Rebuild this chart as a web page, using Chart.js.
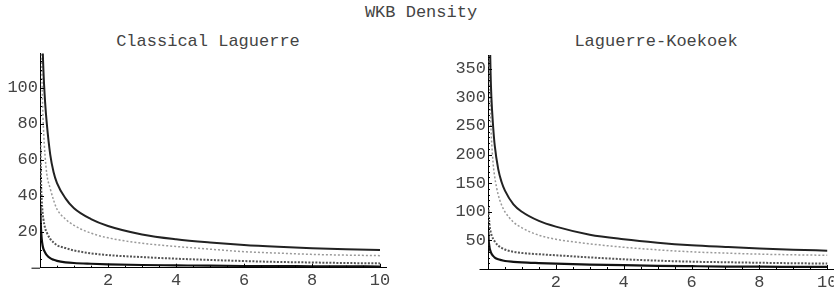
<!DOCTYPE html>
<html>
<head>
<meta charset="utf-8">
<script src="https://cdn.jsdelivr.net/npm/chart.js@4/dist/chart.umd.min.js"></script>
<style>
  body { margin: 0; background: #fff; width: 834px; height: 292px; overflow: hidden; position: relative; }
  canvas { position: absolute; top: 0; }
  .ttl { position: absolute; width: 400px; text-align: center; font: 17px "Liberation Mono", monospace; color: #444; line-height: 20px; white-space: nowrap; }
</style>
</head>
<body>
<div class="ttl" style="left:221px; top:3px;">WKB Density</div>
<div class="ttl" style="left:8px; top:32px;">Classical Laguerre</div>
<div class="ttl" style="left:456px; top:32px;">Laguerre-Koekoek</div>
<canvas id="left-chart" width="417" height="292" style="left:0"></canvas>
<canvas id="right-chart" width="417" height="292" style="left:417px"></canvas>
<script>
// sample positions shared by every curve
const xValues = [0.01, 0.02, 0.035, 0.05, 0.075, 0.1, 0.15, 0.2, 0.3, 0.4, 0.5, 0.75, 1, 1.5, 2, 3, 4, 5, 6, 7, 8, 9, 10];

// Classical Laguerre curves
const laguerre1 = [300, 220, 170, 150, 125, 110, 92, 80, 63, 53, 47, 38.5, 33, 27, 23.2, 18.5, 15.8, 14, 12.6, 11.6, 10.8, 10.2, 9.8];
const laguerre2 = [250, 180, 140, 115, 92, 78, 62, 52, 44, 37.5, 32.5, 27, 23.5, 19.2, 16.6, 13.6, 11.8, 10.3, 8.9, 8.1, 7.4, 7, 6.7];
const laguerre3 = [68, 60, 45, 38, 31, 27, 22, 19.5, 16, 14, 12.5, 10.9, 9.6, 8, 7, 5.9, 5, 4.3, 3.7, 3.2, 2.9, 2.6, 2.4];
const laguerre4 = [35, 26, 20, 16, 12.5, 10.5, 8.5, 7, 5.3, 4.4, 3.8, 3.0, 2.6, 2.2, 1.9, 1.5, 1.3, 1.1, 0.95, 0.85, 0.8, 0.72, 0.68];

// Laguerre-Koekoek curves
const koekoek1 = [900, 650, 500, 420, 345, 300, 250, 215, 175, 152, 137, 113, 100, 84, 74, 60, 52, 46, 41.5, 38.5, 35.8, 33.8, 32];
const koekoek2 = [700, 500, 380, 320, 265, 230, 185, 160, 130, 112, 100, 82, 72, 59, 52, 44, 38, 33.5, 30, 27.8, 26, 24.8, 24];
const koekoek3 = [110, 95, 84, 75, 66, 60, 53, 48, 41, 37, 34, 30, 28, 25.8, 24, 20.3, 17, 14.6, 12.8, 11.8, 10.9, 10.1, 9.5];
const koekoek4 = [65, 50, 42, 36, 31, 27, 23, 20, 17, 15.5, 14, 12.5, 11.5, 10.3, 9.3, 7.8, 6.6, 5.6, 4.9, 4.3, 4.0, 3.8, 3.6];

const xTicks = [2, 4, 6, 8, 10];
const leftYTicks = [20, 40, 60, 80, 100];
const rightYTicks = [50, 100, 150, 200, 250, 300, 350];

const curveStyles = [
    { borderColor: '#222', borderWidth: 2, borderDash: [] },
    { borderColor: '#9a9a9a', borderWidth: 1.5, borderDash: [2, 2] },
    { borderColor: '#555', borderWidth: 2, borderDash: [2, 1.5] },
    { borderColor: '#111', borderWidth: 2.2, borderDash: [] }
];

const tickFont = { family: '"Liberation Mono", monospace', size: 17 };

// Mathematica-style inward ticks and a short axis overhang left of the origin
const innerTicks = {
    id: 'innerTicks',
    afterDraw(chart, args, opts) {
        const ctx = chart.ctx;
        const xs = chart.scales.x, ys = chart.scales.y;
        const x0 = xs.getPixelForValue(0), y0 = ys.getPixelForValue(0);
        ctx.save();
        ctx.strokeStyle = '#000';
        ctx.lineWidth = 1;
        ctx.beginPath();
        ctx.moveTo(xs.getPixelForValue(-0.25), y0 + 0.5);
        ctx.lineTo(x0, y0 + 0.5);
        for (let v = 0.5; v <= 10.01; v += 0.5) {
            const px = Math.round(xs.getPixelForValue(v)) + 0.5;
            const len = xTicks.includes(v) ? 4 : 2;
            ctx.moveTo(px, y0);
            ctx.lineTo(px, y0 - len);
        }
        for (let v = opts.minor; v <= ys.max; v += opts.minor) {
            const py = Math.round(ys.getPixelForValue(v)) + 0.5;
            const len = opts.major.includes(v) ? 4 : 2;
            ctx.moveTo(x0, py);
            ctx.lineTo(x0 + len, py);
        }
        ctx.stroke();
        ctx.restore();
    }
};

function buildDatasets(curves) {
    return curves.map((values, i) => ({
        data: xValues.map((x, j) => ({ x: x, y: values[j] })),
        showLine: true,
        pointRadius: 0,
        cubicInterpolationMode: 'monotone',
        fill: false,
        ...curveStyles[i]
    }));
}

function makeChart(canvasId, curves, yMax, yTicks, minorStep, xMax, area) {
    const ctx = document.getElementById(canvasId).getContext('2d');
    return new Chart(ctx, {
        type: 'scatter',
        data: { datasets: buildDatasets(curves) },
        plugins: [innerTicks],
        options: {
            responsive: false,
            animation: false,
            devicePixelRatio: 1,
            layout: { padding: { top: area.top, right: area.right, left: 0, bottom: 0 } },
            plugins: {
                legend: { display: false },
                tooltip: { enabled: false },
                innerTicks: { minor: minorStep, major: yTicks }
            },
            scales: {
                x: {
                    type: 'linear',
                    min: 0,
                    max: xMax,
                    grid: { display: false, drawTicks: false, tickLength: 0 },
                    border: { display: true, color: '#000', width: 1 },
                    afterBuildTicks: scale => { scale.ticks = xTicks.map(v => ({ value: v })); },
                    afterFit: scale => {
                        scale.height = area.xAxisHeight;
                        scale.paddingLeft = 0;
                        scale.paddingRight = 0;
                    },
                    ticks: { font: tickFont, color: '#444', padding: 3, maxRotation: 0, autoSkip: false }
                },
                y: {
                    type: 'linear',
                    min: 0,
                    max: yMax,
                    grid: { display: false, drawTicks: false, tickLength: 0 },
                    border: { display: true, color: '#000', width: 1 },
                    afterBuildTicks: scale => { scale.ticks = yTicks.map(v => ({ value: v })); },
                    afterFit: scale => {
                        scale.width = area.yAxisWidth;
                        scale.paddingTop = 0;
                        scale.paddingBottom = 0;
                    },
                    ticks: { font: tickFont, color: '#444', padding: 2, autoSkip: false }
                }
            }
        }
    });
}

makeChart('left-chart', [laguerre1, laguerre2, laguerre3, laguerre4], 119, leftYTicks, 5, 10.2,
    { top: 53.5, right: 30.2, xAxisHeight: 24.3, yAxisWidth: 40 });
makeChart('right-chart', [koekoek1, koekoek2, koekoek3, koekoek4], 374, rightYTicks, 10, 10.2,
    { top: 55, right: 0, xAxisHeight: 23, yAxisWidth: 71 });
</script>
</body>
</html>
